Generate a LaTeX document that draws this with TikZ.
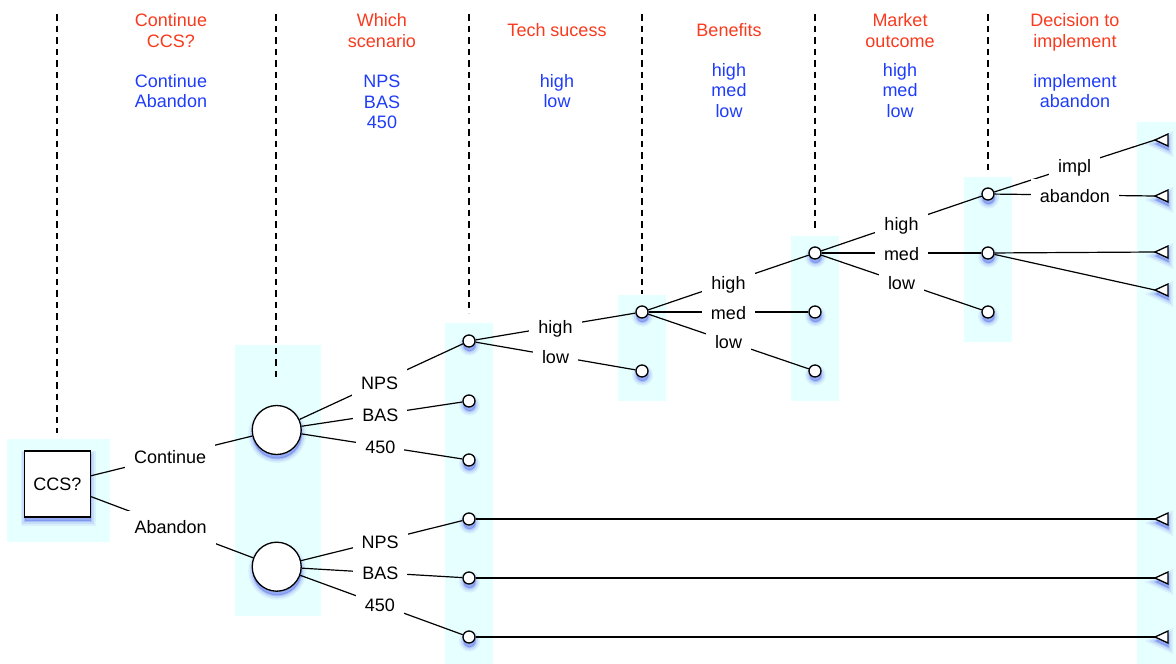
\documentclass[tikz,border=0pt]{standalone}
\usepackage{fontspec}
\setmainfont{Liberation Sans}
\definecolor{hdred}{RGB}{248,58,30}
\definecolor{hdblue}{RGB}{30,60,250}
\definecolor{bgcyan}{RGB}{230,255,255}
\definecolor{shblue}{RGB}{60,80,230}
\begin{document}
\begin{tikzpicture}[x=1pt,y=-1pt,
  font=\fontsize{18}{20.7}\selectfont,
  nshadow/.style={
    preaction={fill=shblue,draw=shblue,line width=9pt,opacity=0.08,transform canvas={xshift=0.5pt,yshift=-4pt}},
    preaction={fill=shblue,draw=shblue,line width=5.5pt,opacity=0.12,transform canvas={xshift=0.5pt,yshift=-4pt}},
    preaction={fill=shblue,draw=shblue,line width=2pt,opacity=0.2,transform canvas={xshift=0.5pt,yshift=-4pt}}},
  decbox/.style={nshadow,draw,line width=1.3pt,fill=white,minimum size=66pt,inner sep=0pt},
  bigc/.style={nshadow,circle,draw,line width=1.3pt,fill=white,minimum size=49pt,inner sep=0pt},
  smc/.style={nshadow,circle,draw,line width=1.3pt,fill=white,minimum size=12pt,inner sep=0pt},
  termtri/.style={nshadow,draw,line width=1.3pt,fill=white,line join=miter},
  conn/.style={line width=1.2pt},
  elabel/.style={fill=white,inner xsep=9pt,inner ysep=10pt,text height=13pt,text depth=4pt,yshift=-2.5pt},
  bgband/.style={fill=bgcyan},
  guide/.style={line width=1.3pt,dash pattern=on 6.5pt off 5pt},
  hdr/.style={text=hdred,align=center,inner sep=0pt},
  opts/.style={text=hdblue,align=center,inner sep=0pt},
]
\useasboundingbox (0,0) rectangle (1176,664);
% background bands
\fill[bgband] (7,439) rectangle (110,542);
\fill[bgband] (235,345) rectangle (321,616);
\fill[bgband] (445,323) rectangle (493,664);
\fill[bgband] (618,295) rectangle (666,401);
\fill[bgband] (791,236) rectangle (839,401);
\fill[bgband] (964,177) rectangle (1012,342);
\fill[bgband] (1137,122) rectangle (1176,664);
% dashed guides
\draw[guide] (57,14) -- (57,433);
\draw[guide] (276,14) -- (276,380);
\draw[guide] (469,14) -- (469,313);
\draw[guide] (642,14) -- (642,294);
\draw[guide] (815,14) -- (815,232);
\draw[guide] (988,14) -- (988,172);
% headings
\node[hdr] (h1) at (171,30.5) {Continue\\CCS?};
\node[opts] (o1) at (171,91) {Continue\\Abandon};
\node[hdr] (h2) at (382,30.5) {Which\\scenario};
\node[opts] (o2) at (382,102) {NPS\\BAS\\450};
\node[hdr] (h3) at (557,30) {Tech sucess};
\node[opts] (o3) at (557,91) {high\\low};
\node[hdr] (h4) at (729,30) {Benefits};
\node[opts] (o4) at (729,90.5) {high\\med\\low};
\node[hdr] (h5) at (900,30.5) {Market\\outcome};
\node[opts] (o5) at (900,90.5) {high\\med\\low};
\node[hdr] (h6) at (1075,32) {Decision to\\implement};
\node[opts] (o6) at (1075,91) {implement\\abandon};
% nodes
\node[decbox] (ccs) at (57.5,484) {CCS?};
\node[bigc] (c1) at (276.7,430) {};
\node[bigc] (c2) at (276.7,566.7) {};
\node[smc] (s1) at (469,341) {};
\node[smc] (s2) at (469,401) {};
\node[smc] (s3) at (469,460) {};
\node[smc] (s4) at (469,519) {};
\node[smc] (s5) at (469,578) {};
\node[smc] (s6) at (469,637) {};
\node[smc] (t1) at (642,312) {};
\node[smc] (t2) at (642,371) {};
\node[smc] (b1) at (815,253) {};
\node[smc] (b2) at (815,312) {};
\node[smc] (b3) at (815,371) {};
\node[smc] (m1) at (988,194) {};
\node[smc] (m2) at (988,253) {};
\node[smc] (m3) at (988,312) {};
% terminals
\coordinate (e1) at (1155,140);
\coordinate (e2) at (1155,196);
\coordinate (e3) at (1155,252);
\coordinate (e4) at (1155,290);
\coordinate (e5) at (1155,519);
\coordinate (e6) at (1155,578);
\coordinate (e7) at (1155,637);
\foreach \e in {e1,e2,e3,e4,e5,e6,e7}
  \draw[termtri] (\e) -- ++(13,-6) -- ++(0,12) -- cycle;
% connectors
\draw[conn] (ccs) -- node[elabel,pos=0.49]{Continue} (c1);
\draw[conn] (ccs) -- node[elabel,pos=0.49]{Abandon} (c2);
\draw[conn] (c1) -- node[elabel,pos=0.49]{NPS} (s1);
\draw[conn] (c1) -- node[elabel,pos=0.49]{BAS} (s2);
\draw[conn] (c1) -- node[elabel,pos=0.49]{450} (s3);
\draw[conn] (c2) -- node[elabel,pos=0.49]{NPS} (s4);
\draw[conn] (c2) -- node[elabel,pos=0.49]{BAS} (s5);
\draw[conn] (c2) -- node[elabel,pos=0.49]{450} (s6);
\draw[conn] (s4) -- (e5);
\draw[conn] (s5) -- (e6);
\draw[conn] (s6) -- (e7);
\draw[conn] (s1) -- node[elabel]{high} (t1);
\draw[conn] (s1) -- node[elabel]{low} (t2);
\draw[conn] (t1) -- node[elabel]{high} (b1);
\draw[conn] (t1) -- node[elabel]{med} (b2);
\draw[conn] (t1) -- node[elabel]{low} (b3);
\draw[conn] (b1) -- node[elabel]{high} (m1);
\draw[conn] (b1) -- node[elabel]{med} (m2);
\draw[conn] (b1) -- node[elabel]{low} (m3);
\draw[conn] (m1) -- node[elabel]{impl} (e1);
\draw[conn] (m1) -- node[elabel]{abandon} (e2);
\draw[conn] (m2) -- (e3);
\draw[conn] (m2) -- (e4);
\end{tikzpicture}
\end{document}
